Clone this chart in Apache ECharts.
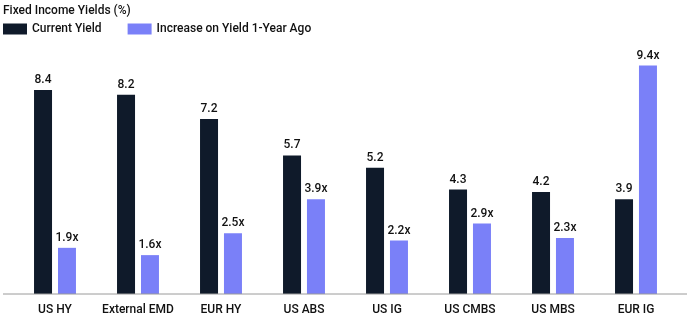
<!DOCTYPE html>
<html><head><meta charset="utf-8">
<script src="https://cdn.jsdelivr.net/npm/echarts@6/dist/echarts.min.js"></script>
<style>html,body{margin:0;padding:0;background:#fff}#c{width:690px;height:321px}</style>
</head><body><div id="c"></div>
<script>
const categories = ['US HY','External EMD','EUR HY','US ABS','US IG','US CMBS','US MBS','EUR IG'];
const currentYield = [8.4, 8.2, 7.2, 5.7, 5.2, 4.3, 4.2, 3.9];
const increaseRatio = [1.9, 1.6, 2.5, 3.9, 2.2, 2.9, 2.3, 9.4];
const seriesNames = ['Current Yield', 'Increase on Yield 1-Year Ago'];
const titleText = 'Fixed Income Yields (%)';

const FONT = "Roboto, sans-serif";
const W = 500;
const FS = 12;
const chart = echarts.init(document.getElementById('c'));
chart.setOption({
  animation: false,
  textStyle: {fontFamily: FONT},
  title: {text: titleText, left: 3, top: 5, padding: 0, textStyle: {fontFamily: FONT, fontSize: FS, fontWeight: W, color: '#111'}},
  legend: {
    left: 3, top: 23, padding: 0, itemWidth: 24, itemHeight: 11, itemGap: 26,
    icon: 'rect',
    textStyle: {fontFamily: FONT, fontSize: FS, fontWeight: W, color: '#111'},
    data: seriesNames
  },
  grid: {left: 13.5, right: 12.5, top: 51, bottom: 27, containLabel: false},
  xAxis: {
    type: 'category', data: categories,
    axisTick: {show: false},
    axisLine: {show: false},
    axisLabel: {fontFamily: FONT, fontSize: FS, fontWeight: W, color: '#111', margin: 10, interval: 0}
  },
  yAxis: {type: 'value', min: 0, max: 10, show: false, splitLine: {show: false}},
  graphic: [{type: 'line', shape: {x1: 3, y1: 294, x2: 687, y2: 294}, style: {stroke: '#9a9a9a', lineWidth: 1}, z: 10}],
  series: [
    {name: seriesNames[0], type: 'bar', data: currentYield, barWidth: 18, barGap: '33%',
     itemStyle: {color: '#0f1a2a'},
     label: {show: true, position: 'top', distance: 4, fontFamily: FONT, fontSize: FS, fontWeight: W, color: '#111', formatter: p => p.value.toFixed(1)}},
    {name: seriesNames[1], type: 'bar', data: increaseRatio, barWidth: 18,
     itemStyle: {color: '#7a80f8'},
     label: {show: true, position: 'top', distance: 4, fontFamily: FONT, fontSize: FS, fontWeight: W, color: '#111', formatter: p => p.value.toFixed(1) + 'x'}}
  ]
});
</script></body></html>
